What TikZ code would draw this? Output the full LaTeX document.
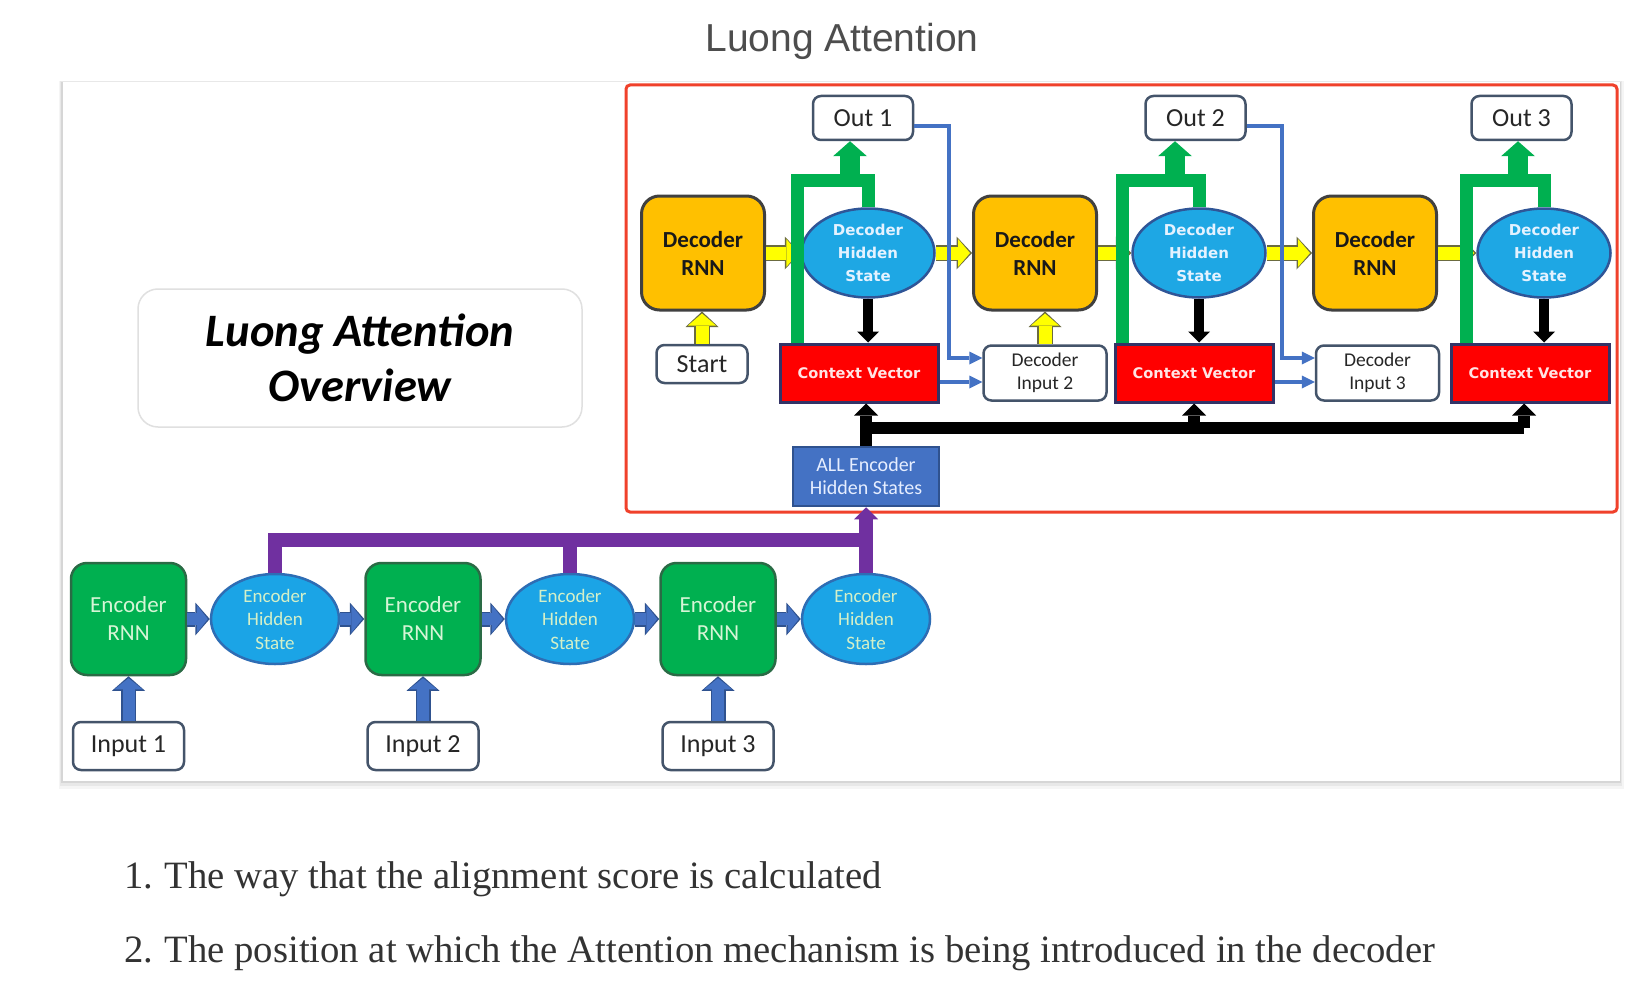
\documentclass[tikz,border=0pt]{standalone}
\usepackage{fontspec}
\setmainfont{Carlito}
\newfontfamily\dvs{DejaVu Sans}
\newfontfamily\titlefont{Liberation Sans}
\newfontfamily\listfont{Liberation Serif}
\usetikzlibrary{arrows.meta,calc,shapes.geometric}
\definecolor{encfill}{HTML}{00B050}
\definecolor{encbord}{HTML}{2A6B45}
\definecolor{enctext}{HTML}{D6F5D6}
\definecolor{ehfill}{HTML}{1BA4E6}
\definecolor{ehbord}{HTML}{2E6DB4}
\definecolor{ehtext}{HTML}{D4F0C8}
\definecolor{decfill}{HTML}{FFC000}
\definecolor{decbord}{HTML}{404040}
\definecolor{dhfill}{HTML}{1EA7E4}
\definecolor{dhbord}{HTML}{2F5597}
\definecolor{dhtext}{HTML}{E4F2FF}
\definecolor{cvfill}{HTML}{FF0000}
\definecolor{cvbord}{HTML}{333366}
\definecolor{cvtext}{HTML}{FFE4E4}
\definecolor{allfill}{HTML}{4472C4}
\definecolor{allbord}{HTML}{2F528F}
\definecolor{alltext}{HTML}{E6EEFF}
\definecolor{wbord}{HTML}{44546A}
\definecolor{yfill}{HTML}{FFFF00}
\definecolor{ybord}{HTML}{6B6B40}
\definecolor{bfill}{HTML}{4472C4}
\definecolor{bbord}{HTML}{2F528F}
\definecolor{pcol}{HTML}{7030A0}
\definecolor{gcol}{HTML}{00B050}
\definecolor{framered}{HTML}{F0412B}
\definecolor{titlegray}{HTML}{4D4D4D}
\definecolor{listgray}{HTML}{333333}
\tikzset{
 encbox/.style={rectangle, rounded corners=16pt, fill=encfill, draw=encbord, line width=2.5pt,
   minimum width=115pt, minimum height=112pt, align=center, inner sep=0pt, text=enctext,
   font=\fontsize{23}{28}\selectfont},
 ehbox/.style={ellipse, fill=ehfill, draw=ehbord, line width=2.5pt, minimum width=128pt,
   minimum height=90pt, align=center, inner sep=0pt, text=ehtext, font=\fontsize{19}{23.5}\selectfont},
 decbox/.style={rectangle, rounded corners=18pt, fill=decfill, draw=decbord, line width=3pt,
   minimum width=123pt, minimum height=114pt, align=center, inner sep=0pt, text=black!90,
   font=\bfseries\fontsize{23}{28}\selectfont},
 dhbox/.style={ellipse, fill=dhfill, draw=dhbord, line width=2.5pt, minimum width=133pt,
   minimum height=89pt, align=center, inner sep=0pt, text=dhtext, font=\dvs\bfseries\fontsize{15}{23.3}\selectfont},
 cvbox/.style={rectangle, fill=cvfill, draw=cvbord, line width=3pt, minimum width=158pt,
   minimum height=58pt, inner sep=0pt, text=cvtext, font=\dvs\bfseries\fontsize{14.6}{18}\selectfont},
 allbox/.style={rectangle, fill=allfill, draw=allbord, line width=2.5pt, minimum width=146pt,
   minimum height=59pt, align=center, inner sep=0pt, text=alltext, font=\fontsize{20}{23}\selectfont},
 wbox/.style={rectangle, rounded corners=8pt, fill=white, draw=wbord, line width=2.5pt,
   align=center, inner sep=0pt, text=black!85, font=\fontsize{26}{30}\selectfont},
 outbox/.style={wbox, minimum width=100pt, minimum height=44pt},
 inbox/.style={wbox, minimum width=111pt, minimum height=48pt},
 startbox/.style={wbox, minimum width=91pt, minimum height=38pt},
 dibox/.style={wbox, minimum width=123pt, minimum height=55pt, font=\fontsize{19.5}{23}\selectfont},
 yarr/.style={draw=yfill, line width=13pt, shorten >=2pt, -{Triangle[width=28pt,length=12pt,line width=0pt]},
   preaction={draw=ybord, line width=16pt, shorten >=0pt, -{Triangle[width=33pt,length=15.5pt,line width=0pt]}}},
 barr/.style={draw=bfill, line width=12pt, shorten >=2pt, -{Triangle[width=28pt,length=11pt,line width=0pt]},
   preaction={draw=bbord, line width=15pt, shorten >=0pt, -{Triangle[width=33pt,length=14.5pt,line width=0pt]}}},
 karr/.style={draw=black, line width=10pt, -{Triangle[width=22pt,length=11pt,line width=0pt]}},
 kbus/.style={draw=black, line width=12pt},
 kbusarr/.style={kbus, -{Triangle[width=24pt,length=12pt,line width=0pt]}},
 pline/.style={draw=pcol, line width=14pt},
 parr/.style={pline, -{Triangle[width=24pt,length=12pt,line width=0pt]}},
 gline/.style={draw=gcol, line width=13pt, line join=miter},
 garr/.style={draw=gcol, line width=20pt, -{Triangle[width=34pt,length=15pt,line width=0pt]}},
 bthin/.style={draw=bfill, line width=4pt, -{Triangle[width=13pt,length=13pt,line width=0pt]}},
}
\begin{document}
\begin{tikzpicture}[x=1pt,y=-1pt]
\useasboundingbox (0,0) rectangle (1652,1006);
\fill[white] (0,0) rectangle (1652,1006);
% panel with shadow
\fill[black!4] (59,81) rectangle (1624,789);
\fill[black!9] (60,81) rectangle (1622,786);
\fill[black!16] (61,82) rectangle (1621,783);
\fill[white] (63,82) rectangle (1620,781);
% title
\node[font=\titlefont\fontsize{39}{44}\selectfont, text=titlegray, anchor=base] (title) at (842,52) {Luong Attention};
% red frame
\draw[framered, line width=3pt, rounded corners=4pt] (626,85) rectangle (1617,512);
% overview
\node[rectangle, rounded corners=20pt, draw=black!12, line width=1.5pt, fill=white, minimum width=444pt,
  minimum height=138pt, align=center, font=\bfseries\itshape\fontsize{46.5}{55}\selectfont] (ov) at (360,358)
  {Luong Attention\\Overview};
% encoder
\node[encbox] (enc1) at (128.5,619) {Encoder\\RNN};
\node[encbox] (enc2) at (423,619) {Encoder\\RNN};
\node[encbox] (enc3) at (718,619) {Encoder\\RNN};
\node[ehbox] (eh1) at (275,619) {Encoder\\Hidden\\State};
\node[ehbox] (eh2) at (570,619) {Encoder\\Hidden\\State};
\node[ehbox] (eh3) at (866,619) {Encoder\\Hidden\\State};
\node[inbox] (in1) at (128.5,746) {Input 1};
\node[inbox] (in2) at (423,746) {Input 2};
\node[inbox] (in3) at (718,746) {Input 3};
\node[allbox] (all) at (866,476.5) {ALL Encoder\\Hidden States};
% decoder
\node[decbox] (dr1) at (703,253) {Decoder\\RNN};
\node[decbox] (dr2) at (1035,253) {Decoder\\RNN};
\node[decbox] (dr3) at (1375,253) {Decoder\\RNN};
\node[dhbox] (dh1) at (868,253) {Decoder\\Hidden\\State};
\node[dhbox] (dh2) at (1199,253) {Decoder\\Hidden\\State};
\node[dhbox] (dh3) at (1544,253) {Decoder\\Hidden\\State};
\node[cvbox] (cv1) at (859,373) {Context Vector};
\node[cvbox] (cv2) at (1194,373) {Context Vector};
\node[cvbox] (cv3) at (1530,373) {Context Vector};
\node[outbox] (out1) at (863,118) {Out 1};
\node[outbox] (out2) at (1195.5,118) {Out 2};
\node[outbox] (out3) at (1521.5,118) {Out 3};
\node[startbox] (start) at (702,364) {Start};
\node[dibox] (di2) at (1045,373) {Decoder\\Input 2};
\node[dibox] (di3) at (1377.5,373) {Decoder\\Input 3};
% encoder arrows
\draw[barr] (in1.north) -- (enc1.south);
\draw[barr] (in2.north) -- (enc2.south);
\draw[barr] (in3.north) -- (enc3.south);
\draw[barr] (enc1.east) -- (eh1.west);
\draw[barr] (eh1.east) -- (enc2.west);
\draw[barr] (enc2.east) -- (eh2.west);
\draw[barr] (eh2.east) -- (enc3.west);
\draw[barr] (enc3.east) -- (eh3.west);
% purple bus
\coordinate (pb) at (0,540);
\draw[pline] (eh1.north) |- (eh3.north |- pb);
\draw[pline] (eh2.north) -- (eh2.north |- pb);
\draw[parr] (eh3.north) -- (all.south);
% black bus
\coordinate (kb) at (0,428);
\coordinate (k3) at (1524,0);
\draw[kbusarr] (all.north) -- (all.north |- cv1.south);
\draw[kbus] (all.north |- kb) -- (k3 |- kb);
\draw[kbusarr] (k3 |- kb) -- (k3 |- cv3.south);
\draw[kbusarr] (cv2.south |- kb) -- (cv2.south);
% dh -> cv
\draw[karr] (dh1.south) -- (dh1.south |- cv1.north);
\draw[karr] (dh2.south) -- (dh2.south |- cv2.north);
\draw[karr] (dh3.south) -- (dh3.south |- cv3.north);
% yellow
\draw[yarr] (dr1.east) -- (dh1.west);
\draw[yarr] (dh1.east) -- (dr2.west);
\draw[yarr] (dr2.east) -- (dh2.west);
\draw[yarr] (dh2.east) -- (dr3.west);
\draw[yarr] (dr3.east) -- (dh3.west);
\draw[yarr] (start.north) -- (start.north |- dr1.south);
\draw[yarr] (di2.north) -- (di2.north |- dr2.south);
% green
\coordinate (g1) at (797,180);
\coordinate (g2) at (1122,180);
\coordinate (g3) at (1466,180);
\draw[gline] (g1 |- cv1.north) -- (g1) -- (g1 -| dh1.north) -- (dh1.north);
\draw[gline] (g2 |- cv2.north) -- (g2) -- (g2 -| dh2.north) -- (dh2.north);
\draw[gline] (g3 |- cv3.north) -- (g3) -- (g3 -| dh3.north) -- (dh3.north);
\coordinate (ga1) at (850,186);
\coordinate (ga2) at (1175,186);
\coordinate (ga3) at (1518,186);
\draw[garr] (ga1) -- (ga1 |- out1.south);
\draw[garr] (ga2) -- (ga2 |- out2.south);
\draw[garr] (ga3) -- (ga3 |- out3.south);
% blue thin
\draw[bthin] ($(out1.east)+(0,8)$) -- ++(35,0) |- ($(di2.west)+(0,-15)$);
\draw[bthin] ($(out2.east)+(0,8)$) -- ++(35,0) |- ($(di3.west)+(0,-15)$);
\draw[bthin] ($(cv1.east)+(0,9)$) -- ($(di2.west)+(0,9)$);
\draw[bthin] ($(cv2.east)+(0,9)$) -- ($(di3.west)+(0,9)$);
% list
\node[anchor=base west, font=\listfont\fontsize{38.7}{42}\selectfont, text=listgray, inner sep=0pt] (item1) at (124,888)
  {1.\hspace{11.5pt}The way that the alignment score is calculated};
\node[anchor=base west, font=\listfont\fontsize{38.7}{42}\selectfont, text=listgray, inner sep=0pt] (item2) at (124,962)
  {2.\hspace{11.5pt}The position at which the Attention mechanism is being introduced in the decoder};
\end{tikzpicture}
\end{document}
